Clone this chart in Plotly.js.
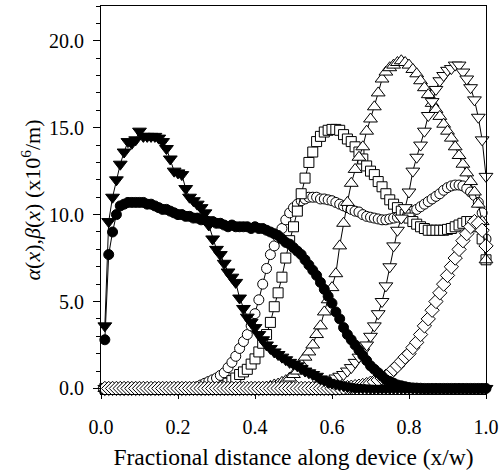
<!DOCTYPE html>
<html>
<head>
<meta charset="utf-8">
<script src="https://cdn.plot.ly/plotly-3.0.1.min.js"></script>
<style>html,body{margin:0;padding:0;background:#fff;}#chart{width:503px;height:473px;}</style>
</head>
<body>
<div id="chart"></div>
<script>
// Fractional distance along device (x/w)
const xPos = [
  0.01,0.02,0.03,0.04,0.05,0.06,0.07,0.08,0.09,0.10,
  0.11,0.12,0.13,0.14,0.15,0.16,0.17,0.18,0.19,0.20,
  0.21,0.22,0.23,0.24,0.25,0.26,0.27,0.28,0.29,0.30,
  0.31,0.32,0.33,0.34,0.35,0.36,0.37,0.38,0.39,0.40,
  0.41,0.42,0.43,0.44,0.45,0.46,0.47,0.48,0.49,0.50,
  0.51,0.52,0.53,0.54,0.55,0.56,0.57,0.58,0.59,0.60,
  0.61,0.62,0.63,0.64,0.65,0.66,0.67,0.68,0.69,0.70,
  0.71,0.72,0.73,0.74,0.75,0.76,0.77,0.78,0.79,0.80,
  0.81,0.82,0.83,0.84,0.85,0.86,0.87,0.88,0.89,0.90,
  0.91,0.92,0.93,0.94,0.95,0.96,0.97,0.98,0.99,1.00
];

// filled circles
const filledCircles = [
  2.8,7.7,9.0,10.0,10.5,10.6,10.7,10.7,10.7,10.7,
  10.7,10.6,10.6,10.5,10.4,10.3,10.3,10.2,10.1,10.0,
  10.0,9.9,9.9,9.8,9.8,9.7,9.7,9.6,9.6,9.5,
  9.5,9.4,9.3,9.4,9.3,9.3,9.3,9.3,9.2,9.3,
  9.2,9.2,9.1,9.0,8.9,8.8,8.6,8.4,8.3,8.1,
  7.9,7.7,7.4,7.1,6.8,6.5,6.1,5.7,5.3,4.9,
  4.4,4.0,3.5,3.1,2.8,2.5,2.2,1.9,1.6,1.3,
  1.1,0.9,0.7,0.5,0.4,0.3,0.2,0.15,0.1,0.05,
  0.03,0.02,0.01,0,0,0,0,0,0,0,
  0,0,0,0,0,0,0,0,0,0
];

// filled down-triangles
const filledTriangles = [
  3.6,9.6,11.0,12.0,12.9,13.6,14.2,14.1,14.3,14.8,
  14.5,14.5,14.5,14.5,14.4,14.2,13.8,13.2,12.5,12.4,
  12.3,11.5,11.0,10.8,10.6,10.4,10.1,9.4,8.6,8.0,
  7.7,7.2,6.7,6.4,6.1,5.2,4.6,4.1,3.8,3.5,
  3.1,2.8,2.5,2.3,2.1,1.95,1.8,1.65,1.5,1.4,
  1.3,1.15,1.0,0.9,0.8,0.7,0.55,0.45,0.35,0.3,
  0.25,0.2,0.15,0.1,0.08,0.05,0.03,0.02,0.01,0,
  0,0,0,0,0,0,0,0,0,0,
  0,0,0,0,0,0,0,0,0,0,
  0,0,0,0,0,0,0,0,0,0
];

// open circles
const openCircles = [
  0,0,0,0,0,0,0,0,0,0,
  0,0,0,0,0,0,0,0,0,0,
  0,0,0.02,0.05,0.1,0.2,0.3,0.4,0.5,0.6,
  0.75,0.9,1.2,1.5,1.85,2.3,2.7,3.1,3.6,4.3,
  5.1,6.0,6.9,7.7,8.2,8.7,9.2,9.7,10.1,10.4,
  10.6,10.8,10.9,11.0,11.0,11.0,10.9,10.9,10.85,10.8,
  10.7,10.6,10.5,10.4,10.3,10.2,10.15,10.0,9.9,9.85,
  9.8,9.75,9.7,9.7,9.75,9.8,9.85,9.9,10.0,10.1,
  10.2,10.3,10.45,10.6,10.75,10.9,11.05,11.2,11.4,11.55,
  11.65,11.7,11.7,11.65,11.5,11.3,11.1,10.7,10.1,8.6
];

// open squares
const openSquares = [
  0,0,0,0,0,0,0,0,0,0,
  0,0,0,0,0,0,0,0,0,0,
  0,0,0,0,0,0,0,0,0,0,
  0.05,0.15,0.3,0.45,0.6,0.8,0.95,1.1,1.4,1.7,
  2.1,2.6,3.1,3.8,4.7,5.5,6.4,7.5,8.5,9.3,
  10.2,11.2,12.1,13.0,13.6,14.2,14.5,14.75,14.85,14.9,
  14.9,14.85,14.6,14.35,14.2,13.9,13.6,13.2,12.8,12.5,
  12.3,11.9,11.6,11.2,10.85,10.6,10.4,10.2,10.0,9.8,
  9.6,9.45,9.3,9.2,9.1,9.1,9.1,9.1,9.1,9.15,
  9.2,9.3,9.4,9.5,9.6,9.6,9.5,9.3,8.6,7.4
];

// open up-triangles
const openUpTriangles = [
  0,0,0,0,0,0,0,0,0,0,
  0,0,0,0,0,0,0,0,0,0,
  0,0,0,0,0,0,0,0,0,0,
  0,0,0,0,0,0,0,0,0,0,
  0.03,0.05,0.08,0.12,0.2,0.25,0.35,0.45,0.6,0.8,
  1.0,1.4,1.8,2.1,2.5,3.1,3.6,4.4,5.1,5.8,
  6.6,8.2,9.5,10.7,11.8,12.6,13.3,13.9,14.8,15.5,
  16.2,17.0,17.8,18.2,18.45,18.6,18.75,18.85,18.75,18.6,
  18.35,18.1,17.7,17.3,16.9,16.4,16.05,15.65,15.2,14.8,
  14.4,13.9,13.4,12.9,12.4,11.9,11.3,10.6,9.6,7.4
];

// open down-triangles
const openDownTriangles = [
  0,0,0,0,0,0,0,0,0,0,
  0,0,0,0,0,0,0,0,0,0,
  0,0,0,0,0,0,0,0,0,0,
  0,0,0,0,0,0,0,0,0,0,
  0,0,0,0,0,0,0,0,0,0,
  0.02,0.03,0.05,0.08,0.1,0.15,0.2,0.28,0.38,0.5,
  0.6,0.7,0.8,1.0,1.2,1.5,1.8,2.1,2.5,3.0,
  3.6,4.3,5.0,5.9,7.0,8.2,9.1,9.8,10.4,11.3,
  12.5,13.3,14.0,14.8,15.7,16.5,17.2,17.7,18.0,18.3,
  18.4,18.6,18.6,18.2,17.8,17.3,16.6,15.6,14.3,12.2
];

// open diamonds
const openDiamonds = [
  0,0,0,0,0,0,0,0,0,0,
  0,0,0,0,0,0,0,0,0,0,
  0,0,0,0,0,0,0,0,0,0,
  0,0,0,0,0,0,0,0,0,0,
  0,0,0,0,0,0,0,0,0,0,
  0,0,0,0,0,0,0,0,0,0,
  0.01,0.02,0.03,0.05,0.07,0.1,0.13,0.17,0.22,0.3,
  0.38,0.48,0.6,0.7,0.85,1.1,1.3,1.55,1.8,2.0,
  2.35,2.65,3.1,3.6,4.0,4.5,5.0,5.5,6.0,6.5,
  7.0,7.5,8.0,8.5,8.9,9.3,9.6,9.5,9.1,8.2
];

const xTickVals = [0, 0.2, 0.4, 0.6, 0.8, 1.0];
const xTickText = ['0.0', '0.2', '0.4', '0.6', '0.8', '1.0'];
const yTickVals = [0, 5, 10, 15, 20];
const yTickText = ['0.0', '5.0', '10.0', '15.0', '20.0'];

function series(y, symbol, filled, size) {
  return {
    x: xPos, y: y, type: 'scatter', mode: 'lines+markers',
    cliponaxis: false,
    line: {color: '#000', width: 1},
    marker: {symbol: symbol, size: size,
             color: filled ? '#000' : '#fff',
             line: {color: '#000', width: 1}},
    showlegend: false, hoverinfo: 'skip'
  };
}

const data = [
  series(openCircles, 'circle', false, 10),
  series(openSquares, 'square', false, 10),
  series(openUpTriangles, 'triangle-up', false, 12),
  series(openDownTriangles, 'triangle-down', false, 12),
  series(openDiamonds, 'diamond', false, 11),
  series(filledTriangles, 'triangle-down', true, 12),
  series(filledCircles, 'circle', true, 10)
];

const serif = '"Liberation Serif", "Times New Roman", serif';
const layout = {
  width: 503, height: 473,
  margin: {l: 101, r: 17, t: 6, b: 79},
  paper_bgcolor: '#fff', plot_bgcolor: '#fff',
  font: {family: serif, color: '#000'},
  xaxis: {
    range: [0, 1], tickvals: xTickVals, ticktext: xTickText,
    showline: true, linecolor: '#000', linewidth: 1, mirror: true,
    ticks: 'outside', ticklen: 4, tickcolor: '#000',
    showgrid: false, zeroline: false,
    tickfont: {family: serif, size: 20, color: '#000'},
    ticklabelstandoff: 11,
    title: {text: 'Fractional distance along device (x/w)',
            font: {family: serif, size: 23.5, color: '#000'}, standoff: 11}
  },
  yaxis: {
    range: [-0.32, 22], tickvals: yTickVals, ticktext: yTickText,
    showline: true, linecolor: '#000', linewidth: 1, mirror: true,
    ticks: 'outside', ticklen: 7, tickcolor: '#000',
    minor: {dtick: 1, tick0: 0, ticks: 'outside', ticklen: 4, tickcolor: '#000', showgrid: false},
    showgrid: false, zeroline: false,
    tickfont: {family: serif, size: 20, color: '#000'},
    ticklabelstandoff: 5,
    title: {text: '<i>α</i>(<i>x</i>),<i>β</i>(<i>x</i>) (x10<sup>6</sup>/m)',
            font: {family: serif, size: 22, color: '#000'}, standoff: 2}
  }
};

Plotly.newPlot('chart', data, layout, {displayModeBar: false, staticPlot: true});
</script>
</body>
</html>
